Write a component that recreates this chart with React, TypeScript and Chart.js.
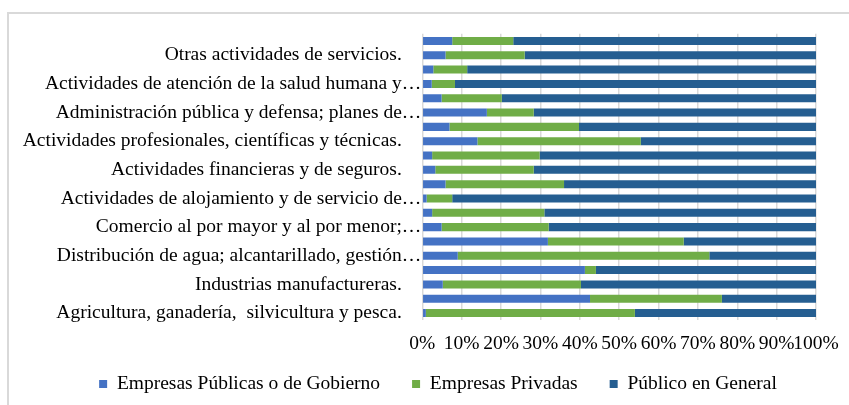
import React, { useEffect, useRef } from "react";
import { Chart, registerables } from "chart.js";

Chart.register(...registerables);

// Categories in Excel order (first = bottom bar)
const categories = [
  "Agricultura, ganadería,  silvicultura y pesca.",
  "Explotación de minas y canteras.",
  "Industrias manufactureras.",
  "Suministro de electricidad, gas, vapor y aire acondicionado.",
  "Distribución de agua; alcantarillado, gestión…",
  "Construcción.",
  "Comercio al por mayor y al por menor;…",
  "Transporte y almacenamiento.",
  "Actividades de alojamiento y de servicio de…",
  "Información y comunicación.",
  "Actividades financieras y de seguros.",
  "Actividades inmobiliarias.",
  "Actividades profesionales, científicas y técnicas.",
  "Actividades de servicios administrativos y de apoyo.",
  "Administración pública y defensa; planes de…",
  "Enseñanza.",
  "Actividades de atención de la salud humana y…",
  "Artes, entretenimiento y recreación.",
  "Otras actividades de servicios.",
  "Actividades de los hogares como empleadores.",
];

const seriesNames = ["Empresas Públicas o de Gobierno", "Empresas Privadas", "Público en General"];

const empresasPublicas = [0.9, 42.6, 5.2, 41.3, 9.0, 31.9, 4.9, 2.5, 1.1, 5.9, 3.3, 2.5, 14.0, 6.9, 16.4, 4.9, 2.4, 2.8, 5.9, 7.6];
const empresasPrivadas = [53.1, 33.5, 35.1, 2.8, 63.9, 34.5, 27.2, 28.5, 6.5, 30.1, 25.0, 27.3, 41.5, 32.9, 11.9, 15.3, 5.9, 8.6, 20.1, 15.5];
const publicoGeneral = [46.0, 23.9, 59.7, 55.9, 27.1, 33.6, 67.9, 69.0, 92.4, 64.0, 71.7, 70.2, 44.5, 60.2, 71.7, 79.8, 91.7, 88.6, 74.0, 76.9];

const xTickValues = [0, 10, 20, 30, 40, 50, 60, 70, 80, 90, 100];

const COLORS = ["#4472C4", "#70AD47", "#255E91"];
const FONT_FAMILY = "'Liberation Serif', 'Times New Roman', serif";

// Widen label clip areas after layout so long labels are not cut off
const labelAreaPlugin = {
  id: "labelArea",
  afterLayout(chart: any) {
    const x = chart.scales.x;
    const y = chart.scales.y;
    if (x) x.bottom = x.top + 48;
    if (y) y.left = 0;
  },
};

export default function App() {
  const canvasRef = useRef<HTMLCanvasElement | null>(null);

  useEffect(() => {
    if (!canvasRef.current) return;
    const chart = new Chart(canvasRef.current, {
      type: "bar",
      data: {
        labels: categories,
        datasets: [empresasPublicas, empresasPrivadas, publicoGeneral].map((d, i) => ({
          label: seriesNames[i],
          data: d,
          backgroundColor: COLORS[i],
          borderWidth: 0,
          barPercentage: 0.56,
          categoryPercentage: 1,
        })),
      },
      options: {
        indexAxis: "y",
        responsive: false,
        animation: false,
        devicePixelRatio: 1,
        layout: { padding: { top: 33.8, left: 60, right: 33, bottom: 1.25 } },
        plugins: {
          tooltip: { enabled: false },
          legend: {
            position: "bottom",
            labels: {
              boxWidth: 8,
              boxHeight: 8,
              padding: 32,
              color: "#000",
              font: { family: FONT_FAMILY, size: 19.5 },
            },
          },
        },
        scales: {
          x: {
            type: "linear",
            stacked: true,
            min: 0,
            max: 100,
            afterBuildTicks: (scale: any) => {
              scale.ticks = xTickValues.map((v) => ({ value: v }));
            },
            afterFit: (scale: any) => {
              scale.height = 22.05;
            },
            grid: { color: "#D9D9D9", lineWidth: 1.5, drawTicks: false },
            border: { display: false },
            ticks: {
              autoSkip: false,
              maxRotation: 0,
              minRotation: 0,
              padding: 8,
              color: "#000",
              font: { family: FONT_FAMILY, size: 19.5, lineHeight: 1.62 },
              callback: (v: any) => `${v}%`,
            },
          },
          y: {
            type: "category",
            stacked: true,
            reverse: true,
            afterFit: (scale: any) => {
              scale.width = 362.3;
            },
            grid: { display: false, drawTicks: false },
            border: { display: false },
            ticks: {
              autoSkip: false,
              padding: 1,
              color: "#000",
              font: { family: FONT_FAMILY, size: 19.5 },
              callback: function (this: any, value: any, index: number) {
                if (index % 2 !== 0) return "";
                const label = String(this.getLabelForValue(value));
                return label.endsWith("…") ? label : label + "    ";
              },
            },
          },
        },
      },
      plugins: [labelAreaPlugin],
    });
    return () => chart.destroy();
  }, []);

  return (
    <div style={{ position: "fixed", left: 0, top: 0, width: 849, height: 405, overflow: "hidden", background: "#fff" }}>
      <div
        style={{
          position: "absolute",
          left: 7,
          top: 12,
          width: 900,
          height: 500,
          border: "2px solid #D9D9D9",
          boxSizing: "border-box",
        }}
      />
      <canvas ref={canvasRef} width={849} height={405} style={{ position: "absolute", left: 0, top: 0 }} />
    </div>
  );
}
